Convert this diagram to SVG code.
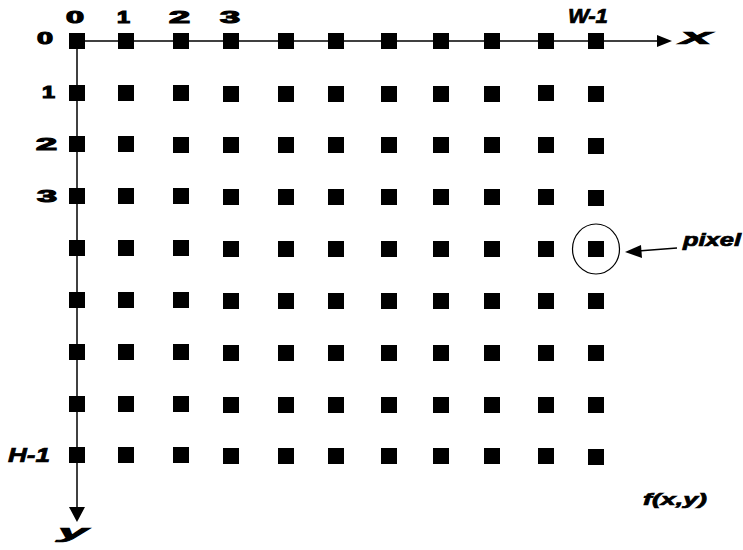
<svg xmlns="http://www.w3.org/2000/svg" width="743" height="550" viewBox="0 0 743 550">
<defs>
<style>
.ax{stroke:#000;stroke-width:1.5;fill:none}
.t{font-family:"Liberation Sans",Arial,sans-serif;font-weight:bold;fill:#000;stroke:#000;stroke-width:0.7}
.n{font-size:16px;stroke-width:1.1}
.i{font-style:italic}
</style>
</defs>
<rect width="743" height="550" fill="#fff"/>
<g id="connectors">
<line class="ax" x1="77" y1="41" x2="657" y2="41"/>
<path d="M657,35 L672,41 L657,47 Z" fill="#000"/>
<line class="ax" x1="77" y1="41" x2="77" y2="507"/>
<path d="M69,507 L77,522 L85,507 Z" fill="#000"/>
<line class="ax" x1="677" y1="248" x2="638" y2="251"/>
<path d="M625,252 L641,245 L642,258 Z" fill="#000"/>
</g>
<g id="pixels">
<g fill="#000">
<rect x="69" y="33" width="16" height="16"/><rect x="118" y="33" width="16" height="16"/><rect x="173" y="33" width="16" height="16"/><rect x="223" y="33" width="16" height="16"/><rect x="278" y="33" width="16" height="16"/><rect x="328" y="33" width="16" height="16"/><rect x="381" y="33" width="16" height="16"/><rect x="433" y="33" width="16" height="16"/><rect x="484" y="33" width="16" height="16"/><rect x="538" y="33" width="16" height="16"/><rect x="588" y="33" width="16" height="16"/>
<rect x="69" y="85" width="16" height="16"/><rect x="118" y="85" width="16" height="16"/><rect x="173" y="85" width="16" height="16"/><rect x="223" y="86" width="16" height="16"/><rect x="278" y="86" width="16" height="16"/><rect x="328" y="86" width="16" height="16"/><rect x="381" y="86" width="16" height="16"/><rect x="433" y="86" width="16" height="16"/><rect x="484" y="86" width="16" height="16"/><rect x="538" y="85" width="16" height="16"/><rect x="588" y="86" width="16" height="16"/>
<rect x="69" y="136" width="16" height="16"/><rect x="118" y="136" width="16" height="16"/><rect x="173" y="137" width="16" height="16"/><rect x="223" y="137" width="16" height="16"/><rect x="278" y="137" width="16" height="16"/><rect x="328" y="137" width="16" height="16"/><rect x="381" y="137" width="16" height="16"/><rect x="433" y="137" width="16" height="16"/><rect x="484" y="137" width="16" height="16"/><rect x="538" y="137" width="16" height="16"/><rect x="588" y="138" width="16" height="16"/>
<rect x="69" y="188" width="16" height="16"/><rect x="118" y="188" width="16" height="16"/><rect x="173" y="188" width="16" height="16"/><rect x="223" y="189" width="16" height="16"/><rect x="278" y="189" width="16" height="16"/><rect x="328" y="189" width="16" height="16"/><rect x="381" y="189" width="16" height="16"/><rect x="433" y="189" width="16" height="16"/><rect x="484" y="189" width="16" height="16"/><rect x="538" y="189" width="16" height="16"/><rect x="588" y="190" width="16" height="16"/>
<rect x="69" y="240" width="16" height="16"/><rect x="118" y="240" width="16" height="16"/><rect x="173" y="240" width="16" height="16"/><rect x="223" y="241" width="16" height="16"/><rect x="278" y="241" width="16" height="16"/><rect x="328" y="241" width="16" height="16"/><rect x="381" y="241" width="16" height="16"/><rect x="433" y="241" width="16" height="16"/><rect x="484" y="241" width="16" height="16"/><rect x="538" y="241" width="16" height="16"/><rect x="588" y="241" width="16" height="16"/>
<rect x="69" y="292" width="16" height="16"/><rect x="118" y="292" width="16" height="16"/><rect x="173" y="292" width="16" height="16"/><rect x="223" y="293" width="16" height="16"/><rect x="278" y="293" width="16" height="16"/><rect x="328" y="293" width="16" height="16"/><rect x="381" y="293" width="16" height="16"/><rect x="433" y="293" width="16" height="16"/><rect x="484" y="293" width="16" height="16"/><rect x="538" y="293" width="16" height="16"/><rect x="588" y="293" width="16" height="16"/>
<rect x="69" y="344" width="16" height="16"/><rect x="118" y="344" width="16" height="16"/><rect x="173" y="344" width="16" height="16"/><rect x="223" y="345" width="16" height="16"/><rect x="278" y="345" width="16" height="16"/><rect x="328" y="345" width="16" height="16"/><rect x="381" y="345" width="16" height="16"/><rect x="433" y="345" width="16" height="16"/><rect x="484" y="345" width="16" height="16"/><rect x="538" y="345" width="16" height="16"/><rect x="588" y="345" width="16" height="16"/>
<rect x="69" y="396" width="16" height="16"/><rect x="118" y="396" width="16" height="16"/><rect x="173" y="396" width="16" height="16"/><rect x="223" y="397" width="16" height="16"/><rect x="278" y="397" width="16" height="16"/><rect x="328" y="397" width="16" height="16"/><rect x="381" y="397" width="16" height="16"/><rect x="433" y="397" width="16" height="16"/><rect x="484" y="397" width="16" height="16"/><rect x="538" y="397" width="16" height="16"/><rect x="588" y="397" width="16" height="16"/>
<rect x="69" y="447" width="16" height="16"/><rect x="118" y="447" width="16" height="16"/><rect x="173" y="447" width="16" height="16"/><rect x="223" y="448" width="16" height="16"/><rect x="278" y="448" width="16" height="16"/><rect x="328" y="448" width="16" height="16"/><rect x="381" y="448" width="16" height="16"/><rect x="433" y="448" width="16" height="16"/><rect x="484" y="448" width="16" height="16"/><rect x="538" y="448" width="16" height="16"/><rect x="588" y="449" width="16" height="16"/>
</g>
</g>
<g id="pixel-highlight">
<ellipse cx="596" cy="249" rx="23.5" ry="25" fill="none" stroke="#000" stroke-width="1.2"/>
</g>
<g id="labels">
<text class="t n" x="66" y="23" textLength="18" lengthAdjust="spacingAndGlyphs">0</text>
<text class="t n" x="117" y="23" textLength="13" lengthAdjust="spacingAndGlyphs">1</text>
<text class="t n" x="169" y="23" textLength="21" lengthAdjust="spacingAndGlyphs">2</text>
<text class="t n" x="220" y="23" textLength="20" lengthAdjust="spacingAndGlyphs">3</text>
<text class="t i" x="568" y="23" font-size="20" textLength="40" lengthAdjust="spacingAndGlyphs">W-1</text>
<text class="t i" x="680" y="44" font-size="22" textLength="32" lengthAdjust="spacingAndGlyphs">x</text>
<text class="t n" x="37" y="44" textLength="16" lengthAdjust="spacingAndGlyphs">0</text>
<text class="t n" x="42" y="98" textLength="13" lengthAdjust="spacingAndGlyphs">1</text>
<text class="t n" x="36" y="150" textLength="21" lengthAdjust="spacingAndGlyphs">2</text>
<text class="t n" x="37" y="202" textLength="20" lengthAdjust="spacingAndGlyphs">3</text>
<text class="t i" x="8" y="462" font-size="20" textLength="42" lengthAdjust="spacingAndGlyphs">H-1</text>
<text class="t i" x="58" y="538" font-size="18" textLength="30" lengthAdjust="spacingAndGlyphs">y</text>
<text class="t i" x="683" y="246" font-size="18" textLength="58" lengthAdjust="spacingAndGlyphs">pixel</text>
<text class="t i" x="643" y="505" font-size="17" textLength="64" lengthAdjust="spacingAndGlyphs">f(x,y)</text>
</g>
</svg>
